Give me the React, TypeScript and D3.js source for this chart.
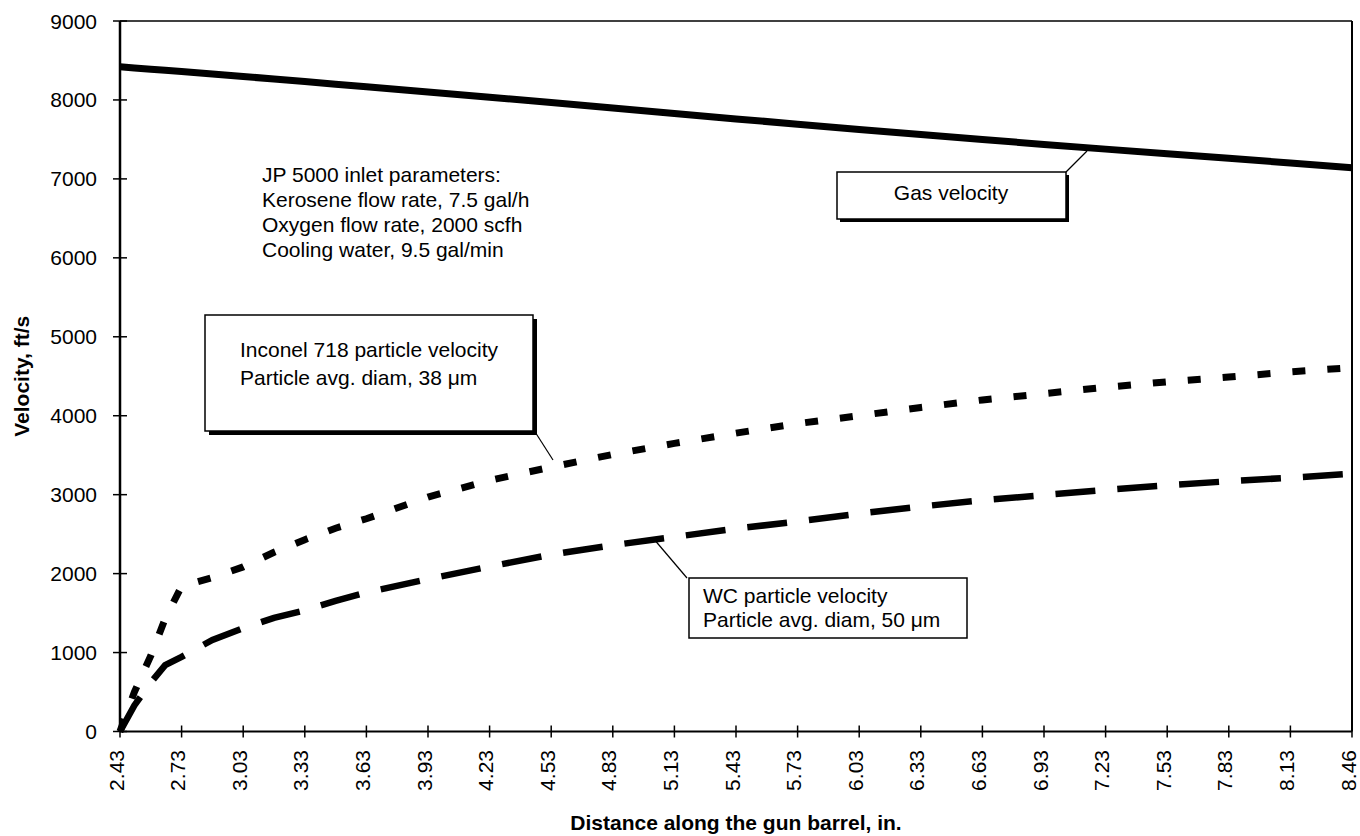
import React, { useEffect, useRef } from 'react';
import * as d3 from 'd3';

// distance along the gun barrel, in.
const distance = [2.43, 2.5, 2.58, 2.65, 2.73, 2.88, 3.03, 3.18, 3.33, 3.48, 3.63, 3.93, 4.23, 4.53, 4.83, 5.13, 5.43, 5.73, 6.03, 6.33, 6.63, 6.93, 7.23, 7.53, 7.83, 8.13, 8.46];

// velocities, ft/s
const gasVelocity = [8420, 8405, 8390, 8375, 8360, 8329, 8297, 8265, 8233, 8200, 8168, 8102, 8035, 7967, 7898, 7829, 7760, 7693, 7627, 7562, 7499, 7437, 7377, 7318, 7260, 7202, 7140];
const inconelVelocity = [0, 500, 960, 1430, 1840, 1950, 2085, 2270, 2430, 2575, 2695, 2970, 3180, 3350, 3510, 3650, 3780, 3900, 4000, 4105, 4200, 4280, 4360, 4430, 4490, 4555, 4610];
const wcVelocity = [0, 330, 620, 840, 945, 1160, 1310, 1440, 1535, 1655, 1760, 1930, 2090, 2240, 2360, 2465, 2570, 2660, 2760, 2850, 2930, 2995, 3060, 3120, 3170, 3215, 3265];

const xTickLabels = ['2.43', '2.73', '3.03', '3.33', '3.63', '3.93', '4.23', '4.53', '4.83', '5.13', '5.43', '5.73', '6.03', '6.33', '6.63', '6.93', '7.23', '7.53', '7.83', '8.13', '8.46'];
const yTicks = [0, 1000, 2000, 3000, 4000, 5000, 6000, 7000, 8000, 9000];

const inletNotes = [
  'JP 5000 inlet parameters:',
  'Kerosene flow rate, 7.5 gal/h',
  'Oxygen flow rate, 2000 scfh',
  'Cooling water, 9.5 gal/min',
];

const FONT = '"Liberation Sans", Arial, Helvetica, sans-serif';

const App = () => {
  const svgRef = useRef<SVGSVGElement>(null);

  useEffect(() => {
    const width = 1360, height = 836;
    const left = 120, right = 1352, top = 21, bottom = 731.5;

    const svg = d3.select(svgRef.current);
    svg.selectAll('*').remove();
    svg.attr('width', width).attr('height', height).style('background', 'white');

    // Excel category axis: labels evenly spaced, last step is 0.33 not 0.3
    const step = (right - left) / (xTickLabels.length - 1);
    const x = d3.scaleLinear()
      .domain([2.43, 8.13, 8.46])
      .range([left, left + step * (xTickLabels.length - 2), right]);
    const y = d3.scaleLinear().domain([0, 9000]).range([bottom, top]);

    // frame
    svg.append('line').attr('x1', left).attr('x2', right).attr('y1', top).attr('y2', top)
      .attr('stroke', '#000').attr('stroke-width', 1.5);
    svg.append('line').attr('x1', right).attr('x2', right).attr('y1', top).attr('y2', bottom)
      .attr('stroke', '#000').attr('stroke-width', 2);

    // y axis
    const yAxis = svg.append('g');
    yAxis.append('line').attr('x1', left).attr('x2', left).attr('y1', top).attr('y2', bottom)
      .attr('stroke', '#000').attr('stroke-width', 2.5);
    yAxis.selectAll('line.tick').data(yTicks).enter().append('line')
      .attr('class', 'tick')
      .attr('x1', left - 7).attr('x2', left + 7)
      .attr('y1', d => y(d)).attr('y2', d => y(d))
      .attr('stroke', '#000').attr('stroke-width', 1.5);
    yAxis.selectAll('text').data(yTicks).enter().append('text')
      .attr('x', 97).attr('y', d => y(d) + 7.5)
      .attr('text-anchor', 'end')
      .style('font-family', FONT).style('font-size', '21px')
      .text(d => d);

    // x axis
    const xAxis = svg.append('g');
    xAxis.append('line').attr('x1', left).attr('x2', right).attr('y1', bottom).attr('y2', bottom)
      .attr('stroke', '#000').attr('stroke-width', 2);
    xAxis.selectAll('line.tick').data(xTickLabels).enter().append('line')
      .attr('class', 'tick')
      .attr('x1', d => x(+d)).attr('x2', d => x(+d))
      .attr('y1', bottom - 6).attr('y2', bottom + 6)
      .attr('stroke', '#000').attr('stroke-width', 1.5);
    xAxis.selectAll('text').data(xTickLabels).enter().append('text')
      .attr('transform', d => `translate(${x(+d) + 3.5},750)rotate(-90)`)
      .attr('text-anchor', 'end')
      .style('font-family', FONT).style('font-size', '21px')
      .text(d => d);

    // axis titles
    svg.append('text')
      .attr('x', 736).attr('y', 830)
      .attr('text-anchor', 'middle')
      .style('font-family', FONT).style('font-size', '21px').style('font-weight', 'bold')
      .text('Distance along the gun barrel, in.');
    svg.append('text')
      .attr('transform', `translate(29,${(top + bottom) / 2})rotate(-90)`)
      .attr('text-anchor', 'middle')
      .style('font-family', FONT).style('font-size', '21px').style('font-weight', 'bold')
      .text('Velocity, ft/s');

    // series
    const line = (values: number[]) => d3.line<number>()
      .x((_, i) => x(distance[i]))
      .y(d => y(d))(values);

    svg.append('path').attr('d', line(gasVelocity))
      .attr('fill', 'none').attr('stroke', '#000').attr('stroke-width', 7);
    svg.append('path').attr('d', line(inconelVelocity))
      .attr('fill', 'none').attr('stroke', '#000').attr('stroke-width', 7)
      .attr('stroke-dasharray', '13 22');
    svg.append('path').attr('d', line(wcVelocity))
      .attr('fill', 'none').attr('stroke', '#000').attr('stroke-width', 6.5)
      .attr('stroke-dasharray', '40 22');

    // inlet parameter notes
    svg.append('g').selectAll('text').data(inletNotes).enter().append('text')
      .attr('x', 262).attr('y', (_, i) => 182 + i * 25)
      .style('font-family', FONT).style('font-size', '21px')
      .text(d => d);

    // callout boxes
    const callout = (bx: number, by: number, bw: number, bh: number, shadow: number) => {
      const g = svg.append('g');
      if (shadow > 0) {
        g.append('rect').attr('x', bx + shadow).attr('y', by + shadow)
          .attr('width', bw).attr('height', bh).attr('fill', '#000');
      }
      g.append('rect').attr('x', bx).attr('y', by).attr('width', bw).attr('height', bh)
        .attr('fill', '#fff').attr('stroke', '#000').attr('stroke-width', 1.5);
      return g;
    };

    // Gas velocity
    svg.append('line').attr('x1', 1066).attr('y1', 172).attr('x2', 1087).attr('y2', 151)
      .attr('stroke', '#000').attr('stroke-width', 1.2);
    callout(837, 172, 229, 47, 3).append('text')
      .attr('x', 951).attr('y', 200).attr('text-anchor', 'middle')
      .style('font-family', FONT).style('font-size', '21px')
      .text('Gas velocity');

    // Inconel 718
    svg.append('line').attr('x1', 530).attr('y1', 424).attr('x2', 553).attr('y2', 460)
      .attr('stroke', '#000').attr('stroke-width', 1.2);
    const inc = callout(205, 315, 328, 116, 4);
    inc.append('text').attr('x', 240).attr('y', 357)
      .style('font-family', FONT).style('font-size', '21px')
      .text('Inconel 718 particle velocity');
    inc.append('text').attr('x', 240).attr('y', 385)
      .style('font-family', FONT).style('font-size', '21px')
      .text('Particle avg. diam, 38 \u03bcm');

    // WC
    svg.append('line').attr('x1', 653).attr('y1', 538).attr('x2', 687).attr('y2', 578)
      .attr('stroke', '#000').attr('stroke-width', 1.2);
    const wc = callout(689, 578, 278, 60, 0);
    wc.append('text').attr('x', 703).attr('y', 603)
      .style('font-family', FONT).style('font-size', '21px')
      .text('WC particle velocity');
    wc.append('text').attr('x', 703).attr('y', 627)
      .style('font-family', FONT).style('font-size', '21px')
      .text('Particle avg. diam, 50 \u03bcm');
  }, []);

  return <svg ref={svgRef} style={{ position: 'absolute', left: 0, top: 0 }} />;
};

export default App;
